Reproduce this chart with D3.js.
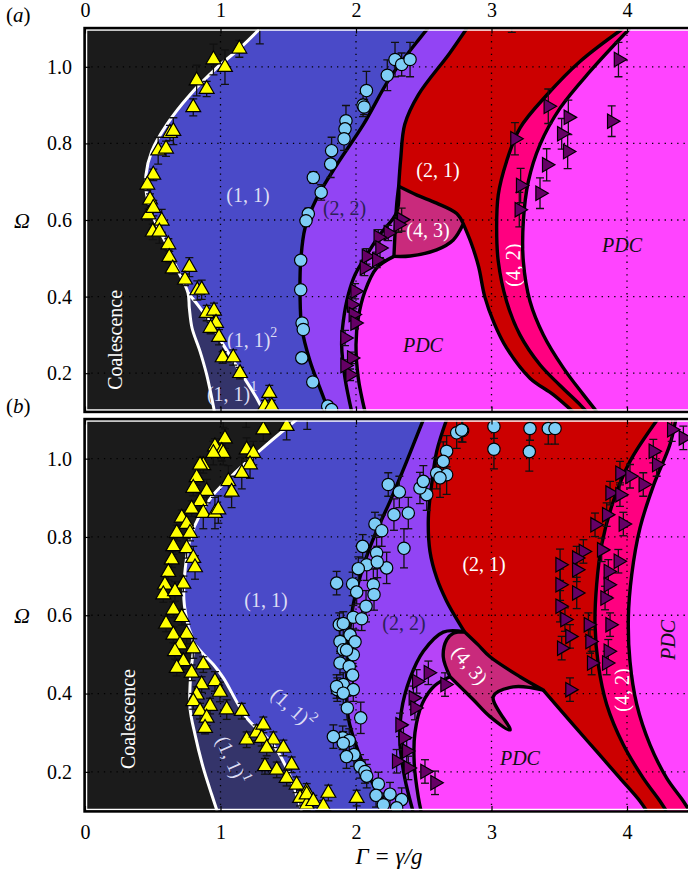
<!DOCTYPE html>
<html>
<head>
<meta charset="utf-8">
<script src="https://cdn.jsdelivr.net/npm/d3@7"></script>
<style>
body { margin: 0; background: #fff; }
svg { display: block; }
svg text { font-family: 'Liberation Serif', 'Times New Roman', Tinos, 'Nimbus Roman', 'DejaVu Serif', 'Noto Serif', serif; }
</style>
</head>
<body>
<svg id="chart" width="688" height="877"></svg>
<script>
// regime map, Gamma = gamma/g on x, Omega on y, two panels

const X_TICKS = [0, 1, 2, 3, 4];
const Y_TICKS = [0.2, 0.4, 0.6, 0.8, 1.0];

// ---- panel (a) boundaries, [Gamma, Omega], top -> bottom
const A_COAL_UPPER = [[1.292,1.1],[1.144,1.049],[0.972,0.997],[0.775,0.927],[0.603,0.849],[0.492,0.779],[0.45,0.718],[0.455,0.666],[0.517,0.597],[0.603,0.536],[0.677,0.475],[0.76,0.41]];
const A_COAL_LEFT = [[0.76,0.41],[0.77,0.37],[0.79,0.318],[0.849,0.257],[0.898,0.196],[0.955,0.1]];
const A_SUB_RIGHT = [[0.76,0.41],[0.85,0.37],[0.93,0.33],[1.021,0.274],[1.144,0.205],[1.267,0.135],[1.316,0.1]];
const A_BLUE_RIGHT = [[2.53,1.1],[2.472,1.075],[2.251,0.971],[2.054,0.849],[1.858,0.744],[1.71,0.657],[1.624,0.579],[1.592,0.492],[1.587,0.405],[1.6,0.318],[1.661,0.231],[1.734,0.161],[1.8,0.1]];
const A_RED_LEFT = [[2.817,1.1],[2.69,1.035],[2.46,0.927],[2.36,0.85],[2.33,0.76],[2.315,0.688]];
const A_43_TOP = [[2.315,0.688],[2.45,0.665],[2.595,0.644],[2.743,0.617],[2.792,0.59]];
const A_43_BOTTOM = [[2.792,0.59],[2.718,0.548],[2.595,0.522],[2.4,0.506],[2.28,0.505]];
const A_43_LEFT = [[2.28,0.505],[2.29,0.58],[2.3,0.64],[2.315,0.688]];
const A_TONGUE = [[2.792,0.59],[2.85,0.54],[2.905,0.478],[2.95,0.4],[3.02,0.33],[3.111,0.266],[3.284,0.187],[3.456,0.144],[3.6,0.1]];
const A_OUTER = [[2.315,0.688],[2.3,0.62],[2.177,0.562],[2.079,0.509],[1.993,0.457],[1.943,0.405],[1.906,0.335],[1.894,0.274],[1.919,0.187],[1.968,0.1]];
const A_INNER = [[2.28,0.505],[2.153,0.475],[2.066,0.414],[2.017,0.344],[2.0,0.274],[2.017,0.187],[2.066,0.1]];
const A_RED_RIGHT = [[3.97,1.1],[3.653,1.014],[3.41,0.927],[3.21,0.84],[3.111,0.753],[3.05,0.666],[3.038,0.579],[3.05,0.492],[3.111,0.388],[3.21,0.3],[3.358,0.222],[3.506,0.168],[3.653,0.118],[3.7,0.1]];
const A_PDC_RIGHT = [[4.02,1.1],[3.727,0.988],[3.506,0.892],[3.358,0.797],[3.272,0.701],[3.235,0.597],[3.235,0.492],[3.284,0.388],[3.383,0.3],[3.53,0.214],[3.678,0.144],[3.776,0.1]];

// ---- panel (a) measurements, [Gamma, Omega, error]
const A_TRI_Y = [[1.139,1.047,0.022],[0.948,1.019,0.04],[1.033,0.999,0.045],[0.824,0.964,0.04],[0.898,0.942,0.02],[0.799,0.894,0.022],[0.627,0.827,0.02],[0.652,0.832,0.035],[0.54,0.781,0.035],[0.598,0.786,0.02],[0.504,0.718,0.015],[0.46,0.692,0.015],[0.48,0.653,0.015],[0.468,0.614,0.015],[0.504,0.631,0.02],[0.566,0.598,0.03],[0.5,0.569,0.02],[0.549,0.569,0.03],[0.615,0.536,0.015],[0.622,0.503,0.015],[0.647,0.473,0.015],[0.77,0.477,0.025],[0.738,0.444,0.015],[0.829,0.416,0.025],[0.861,0.418,0.025],[0.898,0.357,0.02],[0.952,0.363,0.02],[0.967,0.331,0.02],[0.927,0.318,0.015],[0.989,0.294,0.02],[1.016,0.241,0.015],[1.094,0.241,0.02],[1.144,0.2,0.015],[1.36,0.148,0.02],[1.328,0.114,0.015],[1.378,0.114,0.015],[1.29,1.115,0.055]];
const A_CIRC = [[2.288,1.019,0.045],[2.337,1.006,0.03],[2.399,1.019,0.045],[2.231,0.978,0.04],[2.077,0.938,0.05],[2.052,0.9,0.03],[2.06,0.895,0.02],[1.926,0.859,0.04],[1.919,0.838,0.02],[1.912,0.812,0.03],[1.82,0.781,0.035],[1.813,0.746,0.035],[1.685,0.711,0.015],[1.743,0.672,0.02],[1.648,0.616,0.015],[1.631,0.598,0.015],[1.592,0.495,0.01],[1.592,0.418,0.01],[1.602,0.331,0.01],[1.611,0.314,0.01],[1.6,0.24,0.01],[1.681,0.177,0.01],[1.791,0.114,0.01],[1.82,0.105,0.01]];
const A_TRI_P = [[2.337,0.601,0.03],[2.312,0.588,0.02],[2.238,0.566,0.02],[2.164,0.555,0.02],[2.177,0.527,0.025],[2.077,0.505,0.02],[2.153,0.496,0.02],[2.062,0.475,0.02],[1.993,0.414,0.02],[1.968,0.379,0.02],[1.98,0.353,0.015],[1.993,0.331,0.015],[1.919,0.292,0.02],[1.968,0.24,0.015],[1.956,0.196,0.015],[1.919,0.22,0.015],[3.937,1.019,0.045],[3.887,0.858,0.04],[3.419,0.897,0.045],[3.567,0.868,0.045],[3.518,0.825,0.04],[3.562,0.779,0.045],[3.173,0.812,0.042],[3.407,0.744,0.042],[3.358,0.67,0.04],[3.215,0.69,0.045],[3.205,0.627,0.045],[3.15,1.13,0.04]];

// ---- panel (b) boundaries
const B_COAL_UPPER = [[1.562,1.1],[1.341,1.036],[1.12,0.968],[0.947,0.908],[0.849,0.857],[0.78,0.8],[0.74,0.72],[0.73,0.64],[0.76,0.575],[0.8,0.53]];
const B_COAL_LEFT = [[0.8,0.53],[0.78,0.45],[0.775,0.363],[0.812,0.295],[0.873,0.21],[0.935,0.142],[0.975,0.1]];
const B_SUB_RIGHT = [[0.8,0.53],[0.875,0.5],[0.947,0.474],[1.021,0.44],[1.193,0.338],[1.39,0.269],[1.5,0.2],[1.6,0.1]];
const B_BLUE_RIGHT = [[2.497,1.1],[2.374,0.993],[2.251,0.891],[2.14,0.806],[2.042,0.712],[1.98,0.627],[1.943,0.525],[1.931,0.423],[1.943,0.338],[2.017,0.252],[2.103,0.184],[2.202,0.125],[2.24,0.1]];
const B_RED_LEFT = [[2.669,1.1],[2.596,1.019],[2.558,0.933],[2.534,0.848],[2.546,0.763],[2.596,0.695],[2.669,0.636],[2.768,0.576],[2.8,0.558]];
const B_43_TOP = [[2.8,0.558],[2.9,0.525],[2.989,0.494],[3.21,0.443],[3.382,0.409]];
const B_43_BOTTOM = [[3.382,0.409],[3.161,0.417],[3.013,0.392],[3.137,0.307],[2.989,0.341],[2.866,0.384],[2.694,0.443]];
const B_43_LEFT = [[2.694,0.443],[2.644,0.494],[2.669,0.537],[2.718,0.554],[2.8,0.558]];
const B_TONGUE = [[3.382,0.409],[3.604,0.32],[3.776,0.252],[3.948,0.184],[4.096,0.125],[4.145,0.1]];
const B_OUTER = [[2.8,0.558],[2.644,0.557],[2.497,0.508],[2.4,0.44],[2.335,0.355],[2.325,0.27],[2.36,0.184],[2.42,0.1]];
const B_INNER = [[2.694,0.443],[2.58,0.42],[2.49,0.375],[2.435,0.3],[2.43,0.22],[2.46,0.135],[2.48,0.1]];
const B_RED_RIGHT = [[4.225,1.1],[4.022,0.993],[3.899,0.891],[3.813,0.78],[3.776,0.678],[3.764,0.576],[3.788,0.474],[3.85,0.372],[3.973,0.269],[4.12,0.184],[4.244,0.125],[4.29,0.1]];
const B_PDC_RIGHT = [[4.36,1.1],[4.317,1.036],[4.197,0.933],[4.096,0.823],[4.035,0.704],[4.01,0.593],[4.022,0.482],[4.072,0.372],[4.17,0.269],[4.293,0.184],[4.416,0.125],[4.47,0.095]];

// ---- panel (b) measurements
const B_TRI_Y = [[1.316,1.074,0.03],[1.488,1.083,0.035],[1.033,1.051,0.025],[0.959,1.031,0.02],[1.009,1.019,0.025],[1.193,1.023,0.03],[1.242,1.014,0.03],[1.218,0.985,0.035],[1.157,0.963,0.04],[0.873,0.983,0.02],[0.824,0.952,0.02],[0.799,0.925,0.02],[0.898,0.917,0.03],[1.058,0.942,0.04],[1.082,0.915,0.04],[0.849,0.891,0.02],[0.787,0.872,0.02],[0.873,0.861,0.04],[0.959,0.861,0.04],[0.984,0.87,0.035],[0.714,0.849,0.02],[0.75,0.833,0.03],[0.677,0.81,0.02],[0.775,0.81,0.02],[0.652,0.776,0.02],[0.75,0.771,0.025],[0.799,0.746,0.03],[0.812,0.722,0.03],[0.64,0.742,0.02],[0.615,0.71,0.02],[0.726,0.68,0.02],[0.59,0.678,0.02],[0.578,0.653,0.02],[0.664,0.661,0.025],[0.652,0.614,0.02],[0.714,0.595,0.02],[0.598,0.578,0.02],[0.652,0.55,0.02],[0.75,0.552,0.025],[0.701,0.525,0.02],[0.664,0.508,0.02],[0.799,0.515,0.025],[0.726,0.482,0.02],[0.677,0.465,0.02],[0.787,0.453,0.02],[0.873,0.474,0.02],[0.861,0.423,0.02],[0.959,0.431,0.025],[0.824,0.397,0.02],[0.996,0.404,0.025],[0.799,0.38,0.02],[0.923,0.368,0.02],[1.046,0.359,0.025],[1.157,0.355,0.02],[0.849,0.355,0.02],[0.898,0.338,0.02],[0.886,0.312,0.015],[1.193,0.282,0.02],[1.267,0.3,0.02],[1.316,0.32,0.02],[1.304,0.286,0.02],[1.39,0.282,0.02],[1.341,0.261,0.02],[1.464,0.261,0.02],[1.525,0.218,0.02],[1.328,0.214,0.02],[1.415,0.205,0.02],[1.488,0.184,0.02],[1.562,0.167,0.02],[1.636,0.15,0.02],[1.587,0.133,0.02],[1.636,0.116,0.015],[1.636,0.142,0.015],[1.685,0.125,0.015],[1.796,0.146,0.02],[1.759,0.112,0.015],[2.005,0.133,0.02],[1.02,1.014,0.03],[0.849,0.984,0.02],[0.947,1.014,0.03],[1.02,1.12,0.04],[1.19,1.12,0.04],[1.64,1.115,0.04]];
const B_CIRC = [[2.787,1.072,0.03],[2.743,1.066,0.04],[2.669,1.019,0.04],[2.644,0.993,0.05],[2.595,0.963,0.04],[2.669,0.959,0.05],[2.62,0.951,0.05],[2.522,0.908,0.04],[2.472,0.925,0.04],[2.497,0.942,0.04],[2.238,0.934,0.03],[2.32,0.915,0.04],[2.28,0.857,0.04],[2.386,0.861,0.04],[2.14,0.833,0.03],[2.19,0.816,0.04],[2.354,0.771,0.05],[2.049,0.776,0.03],[2.152,0.759,0.04],[2.226,0.721,0.04],[2.079,0.729,0.04],[2.017,0.719,0.03],[2.157,0.736,0.04],[2.128,0.678,0.04],[1.975,0.68,0.03],[2.005,0.659,0.03],[2.133,0.653,0.04],[2.074,0.623,0.04],[1.98,0.595,0.03],[2.042,0.591,0.03],[1.877,0.576,0.03],[1.956,0.55,0.03],[1.993,0.532,0.03],[1.882,0.533,0.03],[1.906,0.512,0.03],[1.98,0.499,0.03],[1.882,0.478,0.03],[1.95,0.469,0.03],[1.975,0.447,0.03],[1.906,0.423,0.03],[1.862,0.41,0.03],[1.98,0.41,0.03],[1.936,0.363,0.03],[2.035,0.338,0.04],[1.902,0.287,0.03],[1.95,0.28,0.03],[1.985,0.244,0.03],[2.03,0.214,0.03],[2.066,0.201,0.03],[2.079,0.189,0.03],[2.165,0.169,0.03],[2.148,0.14,0.03],[2.251,0.143,0.03],[2.337,0.129,0.03],[2.202,0.116,0.03],[2.3,0.108,0.03],[3.018,1.082,0.03],[3.018,1.024,0.05],[3.284,1.077,0.03],[3.279,1.018,0.05],[3.419,1.077,0.04],[3.469,1.077,0.04],[2.78,1.073,0.03],[1.857,0.682,0.03],[1.906,0.579,0.03],[1.93,0.511,0.03],[1.857,0.418,0.03],[1.906,0.401,0.03],[1.833,0.29,0.03],[1.906,0.273,0.03],[1.93,0.239,0.03]];
const B_TRI_P = [[4.33,1.074,0.03],[4.416,1.053,0.03],[4.194,1.019,0.03],[4.219,0.985,0.03],[3.948,0.963,0.03],[4.022,0.955,0.03],[4.12,0.934,0.03],[3.875,0.912,0.03],[3.948,0.908,0.03],[3.85,0.857,0.03],[3.764,0.831,0.03],[3.973,0.833,0.03],[3.813,0.767,0.03],[3.678,0.763,0.03],[3.629,0.746,0.03],[3.506,0.729,0.04],[3.629,0.716,0.03],[3.936,0.738,0.03],[3.862,0.712,0.03],[3.862,0.678,0.03],[3.506,0.678,0.04],[3.629,0.657,0.04],[3.506,0.623,0.04],[3.838,0.644,0.03],[3.542,0.589,0.03],[3.715,0.576,0.03],[3.875,0.576,0.03],[3.579,0.546,0.03],[3.727,0.533,0.03],[3.518,0.516,0.03],[3.862,0.508,0.03],[3.739,0.478,0.03],[3.85,0.478,0.03],[3.579,0.41,0.03],[2.534,0.453,0.03],[2.448,0.431,0.03],[2.657,0.423,0.03],[2.423,0.389,0.03],[2.435,0.363,0.03],[2.325,0.32,0.03],[2.35,0.287,0.03],[2.374,0.253,0.03],[2.3,0.227,0.03],[2.386,0.21,0.03],[2.509,0.201,0.03],[2.583,0.172,0.03]];

const COL = {
    coal: '#1b1b1b', one: '#4a4ac8', sub: '#34346a', two: '#9244f4',
    red: '#cc0000', c43: '#c92a7c', c42: '#ff0080', pdc: '#ff44ff', band: '#b744f8',
};
const SERIF = "'Liberation Serif', 'Times New Roman', Tinos, 'Nimbus Roman', 'DejaVu Serif', 'Noto Serif', serif";

const W = 688;
const x = d3.scaleLinear().domain([0, 4]).range([85, 627]);
const XL = -0.3;

const panels = [
    {
        id: 'a', y: d3.scaleLinear().domain([0.1, 1.1]).range([411.5, 28.5]),
        coalUpper: A_COAL_UPPER, coalLeft: A_COAL_LEFT, subRight: A_SUB_RIGHT, blueRight: A_BLUE_RIGHT,
        redLeft: A_RED_LEFT, top43: A_43_TOP, bottom43: A_43_BOTTOM, left43: A_43_LEFT, tongue: A_TONGUE,
        outer: A_OUTER, inner: A_INNER, redRight: A_RED_RIGHT, pdcRight: A_PDC_RIGHT,
        triY: A_TRI_Y, circ: A_CIRC, triP: A_TRI_P,
        labels: [
            {t: 'Coalescence', g: 0.221, o: 0.287, rot: -90, fill: '#fff'},
            {t: '(1, 1)', g: 1.203, o: 0.665, fill: '#dcdcf4'},
            {t: '(1, 1)', sup: '2', g: 1.048, o: 0.287, anchor: 'start', fill: '#dcdcf4'},
            {t: '(1, 1)', sup: '1', g: 0.9, o: 0.145, anchor: 'start', fill: '#dcdcf4'},
            {t: '(2, 2)', g: 1.756, o: 0.631, anchor: 'start', fill: '#2c2058'},
            {t: '(2, 1)', g: 2.605, o: 0.73, fill: '#fff'},
            {t: '(4, 3)', g: 2.531, o: 0.574, fill: '#fff'},
            {t: '(4, 2)', g: 3.159, o: 0.482, rot: -90, fill: '#fff'},
            {t: 'PDC', g: 2.494, o: 0.273, italic: true, fill: '#111'},
            {t: 'PDC', g: 3.963, o: 0.535, italic: true, fill: '#111'},
        ],
    },
    {
        id: 'b', y: d3.scaleLinear().domain([0.1, 1.1]).range([811, 419.5]),
        coalUpper: B_COAL_UPPER, coalLeft: B_COAL_LEFT, subRight: B_SUB_RIGHT, blueRight: B_BLUE_RIGHT,
        redLeft: B_RED_LEFT, top43: B_43_TOP, bottom43: B_43_BOTTOM, left43: B_43_LEFT, tongue: B_TONGUE,
        outer: B_OUTER, inner: B_INNER, redRight: B_RED_RIGHT, pdcRight: B_PDC_RIGHT,
        triY: B_TRI_Y, circ: B_CIRC, triP: B_TRI_P,
        labels: [
            {t: 'Coalescence', g: 0.317, o: 0.335, rot: -90, fill: '#fff'},
            {t: '(1, 1)', g: 1.336, o: 0.639, fill: '#dcdcf4'},
            {t: '(1, 1)', sup: '2', g: 1.535, o: 0.363, rot: 42, fill: '#dcdcf4'},
            {t: '(1, 1)', sup: '1', g: 1.085, o: 0.23, rot: 66, fill: '#dcdcf4'},
            {t: '(2, 2)', g: 2.354, o: 0.58, fill: '#2c2058'},
            {t: '(2, 1)', g: 2.945, o: 0.731, fill: '#fff'},
            {t: '(4, 3)', g: 2.841, o: 0.473, rot: 50, fill: '#fff'},
            {t: '(4, 2)', g: 3.963, o: 0.409, rot: -90, fill: '#fff'},
            {t: 'PDC', g: 3.21, o: 0.235, italic: true, fill: '#111'},
            {t: 'PDC', g: 4.303, o: 0.537, rot: -90, italic: true, fill: '#111'},
        ],
    },
];

const svg = d3.select('#chart').attr('font-family', SERIF);
const defs = svg.append('defs');

function drawPanel(p) {
    const y = p.y;
    const [yb, yt] = y.range();
    const x0 = x(0);
    defs.append('clipPath').attr('id', 'clip-' + p.id)
        .append('rect').attr('x', x0).attr('y', yt).attr('width', W + 20 - x0).attr('height', yb - yt);

    const smooth = d3.line().x((d) => x(d[0])).y((d) => y(d[1])).curve(d3.curveCatmullRom.alpha(0.5));
    const curve = (pts) => 'L' + smooth(pts).slice(1);
    const corner = (d) => `L${x(d[0])},${y(d[1])}`;
    const poly = (...parts) => 'M' + parts.join('').slice(1) + 'Z';
    const rev = (a) => a.slice().reverse();

    const plot = svg.append('g').attr('clip-path', `url(#clip-${p.id})`);
    const fill = (d, c) => plot.append('path').attr('d', d).attr('fill', c);

    // painter's order, back to front
    plot.append('rect').attr('x', x0).attr('y', yt).attr('width', W + 20 - x0).attr('height', yb - yt).attr('fill', COL.pdc);
    fill(poly(corner([XL, 1.1]), curve(p.pdcRight), corner([XL, 0.1])), COL.c42);
    fill(poly(corner([XL, 1.1]), curve(p.redRight), corner([XL, 0.1])), COL.red);
    fill(poly(corner([XL, 1.1]), curve(p.redLeft), curve(p.top43), curve(p.tongue), corner([XL, 0.1])), COL.two);
    fill(poly(curve(p.outer), curve(rev(p.tongue)), curve(rev(p.top43))), COL.band);
    fill(poly(curve(p.inner), curve(rev(p.tongue)), curve(p.bottom43)), COL.pdc);
    fill(poly(curve(p.top43), curve(p.bottom43), curve(p.left43)), COL.c43);
    fill(poly(corner([XL, 1.1]), curve(p.blueRight), corner([XL, 0.1])), COL.one);
    fill(poly(curve(p.coalLeft), curve(rev(p.subRight))), COL.sub);
    fill(poly(corner([XL, 1.1]), curve(p.coalUpper.concat(p.coalLeft.slice(1))), corner([XL, 0.1])), COL.coal);

    // dotted grid
    const grid = plot.append('g').attr('stroke', '#000').attr('stroke-width', 1.3).attr('stroke-dasharray', '1.3,5');
    grid.selectAll('.gx').data(X_TICKS.slice(1)).join('line')
        .attr('x1', (d) => x(d)).attr('x2', (d) => x(d)).attr('y1', yt).attr('y2', yb);
    grid.selectAll('.gy').data(Y_TICKS).join('line')
        .attr('x1', x0).attr('x2', W + 20).attr('y1', (d) => y(d)).attr('y2', (d) => y(d));

    // region labels
    p.labels.forEach((l) => {
        const t = plot.append('text')
            .attr('transform', `translate(${x(l.g)},${y(l.o)}) rotate(${l.rot || 0})`)
            .attr('text-anchor', l.anchor || 'middle')
            .attr('dominant-baseline', 'central')
            .attr('font-family', SERIF)
            .attr('font-size', 20)
            .attr('font-style', l.italic ? 'italic' : 'normal')
            .attr('fill', l.fill)
            .text(l.t);
        if (l.sup) {
            t.append('tspan').attr('dy', -8).attr('font-size', 14).text(l.sup);
        }
    });

    // boundary lines
    const stroke = (pts, c, w) => plot.append('path').attr('d', smooth(pts))
        .attr('fill', 'none').attr('stroke', c).attr('stroke-width', w).attr('stroke-linejoin', 'round');
    stroke(p.pdcRight, '#000', 3.4);
    stroke(p.redRight, '#000', 3.4);
    stroke(p.redLeft, '#000', 3.4);
    stroke(p.tongue, '#000', 3.4);
    stroke(p.outer, '#000', 3.4);
    stroke(p.inner, '#000', 3.4);
    plot.append('path').attr('d', poly(curve(p.top43), curve(p.bottom43), curve(p.left43)))
        .attr('fill', 'none').attr('stroke', '#000').attr('stroke-width', 3.4).attr('stroke-linejoin', 'round');
    stroke(p.blueRight, '#000', 3.4);
    stroke(p.coalUpper.concat(p.coalLeft.slice(1)), '#fff', 3);
    stroke(p.subRight, '#fff', 3);

    // measurements with vertical error bars
    const markers = (data, sym, size, rot, color) => {
        const g = plot.append('g');
        const eb = g.append('g').attr('stroke', '#111').attr('stroke-width', 1.3);
        data.forEach(([gv, ov, e]) => {
            const cx = x(gv), y1 = y(ov - e), y2 = y(ov + e);
            eb.append('line').attr('x1', cx).attr('x2', cx).attr('y1', y1).attr('y2', y2);
            eb.append('line').attr('x1', cx - 4).attr('x2', cx + 4).attr('y1', y1).attr('y2', y1);
            eb.append('line').attr('x1', cx - 4).attr('x2', cx + 4).attr('y1', y2).attr('y2', y2);
        });
        g.selectAll('path.m').data(data).join('path')
            .attr('d', d3.symbol(sym, size))
            .attr('transform', (d) => `translate(${x(d[0])},${y(d[1])}) rotate(${rot})`)
            .attr('fill', color).attr('stroke', '#000').attr('stroke-width', 1.2);
    };
    markers(p.triP, d3.symbolTriangle, 90, 90, '#660066');
    markers(p.circ, d3.symbolCircle, 120, 0, '#7ecdf6');
    markers(p.triY, d3.symbolTriangle, 95, 0, '#ffff00');

    // frame
    svg.append('rect').attr('x', x0 + 1.5).attr('y', yt + 1.5).attr('width', W + 20 - x0).attr('height', yb - yt - 3)
        .attr('fill', 'none').attr('stroke', '#fff').attr('stroke-width', 1.5);
    svg.append('rect').attr('x', x0 - 0.5).attr('y', yt - 0.5).attr('width', W + 20 - x0).attr('height', yb - yt + 1)
        .attr('fill', 'none').attr('stroke', '#000').attr('stroke-width', 2.4);

    // axes with inward ticks
    const fmtNone = () => '';
    const styleAxis = (g) => {
        g.attr('font-family', SERIF).attr('font-size', 20);
        g.select('.domain').remove();
        g.selectAll('.tick line').attr('stroke', '#000').attr('stroke-width', 1.2);
        g.selectAll('text').attr('fill', '#000');
    };
    svg.append('g').attr('transform', `translate(${x0},0)`)
        .call(d3.axisLeft(y).tickValues(Y_TICKS).tickFormat(d3.format('.1f')).tickSizeInner(-5).tickSizeOuter(0).tickPadding(13))
        .call(styleAxis);
    svg.append('g').attr('transform', `translate(0,${yt})`)
        .call(d3.axisTop(x).tickValues(X_TICKS).tickFormat(p.id === 'a' ? d3.format('d') : fmtNone).tickSizeInner(-5).tickSizeOuter(0).tickPadding(12))
        .call(styleAxis);
    svg.append('g').attr('transform', `translate(0,${yb})`)
        .call(d3.axisBottom(x).tickValues(X_TICKS).tickFormat(p.id === 'b' ? d3.format('d') : fmtNone).tickSizeInner(-5).tickSizeOuter(0).tickPadding(14))
        .call(styleAxis);

    // panel tag and Omega label
    const tag = svg.append('text').attr('x', 6).attr('y', yt - 7).attr('font-size', 21).attr('font-family', SERIF);
    tag.append('tspan').text('(');
    tag.append('tspan').attr('font-style', 'italic').text(p.id);
    tag.append('tspan').text(')');
    svg.append('text').attr('x', 22).attr('y', y(0.6)).attr('text-anchor', 'middle').attr('dominant-baseline', 'central')
        .attr('font-family', SERIF).attr('font-size', 22).attr('font-style', 'italic').text('Ω');
}

panels.forEach(drawPanel);

svg.append('text').attr('x', 389).attr('y', 864).attr('text-anchor', 'middle').attr('font-family', SERIF)
    .attr('font-size', 23).attr('font-style', 'italic').text('Γ = γ/g');
</script>
</body>
</html>
